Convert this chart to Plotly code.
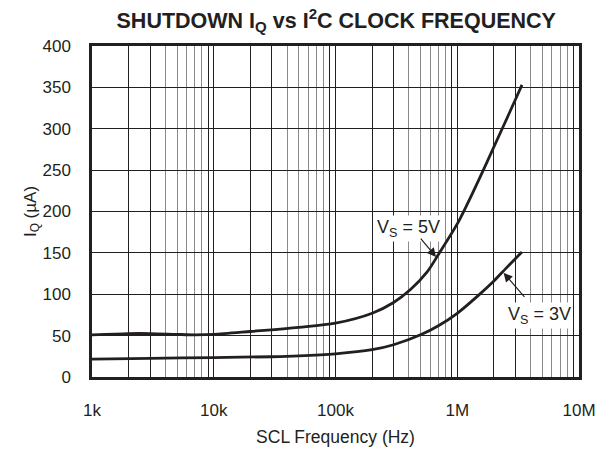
import numpy as np
import plotly.graph_objects as go

# ---- data ----
freq_5v = [1e3, 2e3, 3e3, 5e3, 7e3, 1e4, 2e4, 5e4, 1e5, 2e5, 3e5, 4.15e5, 5.66e5,
           7e5, 1e6, 1.2e6, 1.5e6, 2e6, 3e6, 3.4e6]
iq_5v = [51, 52.5, 52.5, 51.5, 51, 51.5, 55, 60, 65, 77, 90, 106, 127,
         148, 185, 208, 238, 278, 335, 353]

freq_3v = [1e3, 3e3, 1e4, 3e4, 5e4, 1e5, 2e5, 3e5, 5e5, 7e5, 1e6, 1.5e6, 2e6,
           2.5e6, 3e6, 3.4e6]
iq_3v = [21.5, 22.5, 23.5, 24.5, 25.5, 28, 33, 39, 51, 62, 77, 99, 116,
         131, 143, 151]

x_tick_vals = [1e3, 1e4, 1e5, 1e6, 1e7]
x_tick_text = ["1k", "10k", "100k", "1M", "10M"]
y_tick_vals = [0, 50, 100, 150, 200, 250, 300, 350, 400]

# label / arrow anchor values
label_5v = dict(f=3.95e5, v=180)
arrow_5v = dict(f_tip=6.7e5, v_tip=145, f_tail=4.9e5, v_tail=169)
label_3v = dict(f=4.7e6, v=74)
arrow_3v = dict(f_tip=2.4e6, v_tip=126, f_tail=3.65e6, v_tail=95)

INK = "#231f20"
FONT = "Liberation Sans, Arial, Helvetica, sans-serif"

# grid lines: decades + 2,3,9 dark; 4..8 grey
dark_minor = []
grey_minor = []
for d in [1e3, 1e4, 1e5, 1e6]:
    for m in [2, 3, 9]:
        dark_minor.append(m * d)
    for m in [4, 5, 6, 7, 8]:
        grey_minor.append(m * d)

fig = go.Figure()
fig.add_trace(go.Scatter(x=freq_5v, y=iq_5v, mode="lines",
                         line=dict(color=INK, width=2.8, shape="spline", smoothing=0.8),
                         showlegend=False, hoverinfo="skip"))
fig.add_trace(go.Scatter(x=freq_3v, y=iq_3v, mode="lines",
                         line=dict(color=INK, width=2.8, shape="spline", smoothing=0.8),
                         showlegend=False, hoverinfo="skip"))

major_vals = x_tick_vals + dark_minor
major_text = x_tick_text + [""] * len(dark_minor)

fig.update_xaxes(type="log", range=[3, 7],
                 tickvals=major_vals, ticktext=major_text,
                 showgrid=True, gridcolor=INK, gridwidth=1,
                 minor=dict(tickvals=grey_minor, showgrid=True,
                            gridcolor="#8a8a8a", gridwidth=1.2, ticks=""),
                 ticks="", ticklabelstandoff=16,
                 showline=True, mirror=True, linecolor=INK, linewidth=2.5,
                 tickfont=dict(family=FONT, size=17, color=INK),
                 title=dict(text="SCL Frequency (Hz)", standoff=12,
                            font=dict(family=FONT, size=17.5, color=INK)))
fig.update_yaxes(range=[0, 400], tickvals=y_tick_vals,
                 showgrid=True, gridcolor=INK, gridwidth=1, zeroline=False,
                 ticks="", ticklabelstandoff=15,
                 showline=True, mirror=True, linecolor=INK, linewidth=2.5,
                 tickfont=dict(family=FONT, size=17, color=INK),
                 title=dict(text="I<sub>Q</sub> (µA)", standoff=2,
                            font=dict(family=FONT, size=17, color=INK)))

fig.add_annotation(x=np.log10(label_5v["f"]), y=label_5v["v"], xref="x", yref="y",
                   text="V<sub>S</sub> = 5V", showarrow=False, bgcolor="white",
                   font=dict(family=FONT, size=18, color=INK), borderpad=1)
fig.add_annotation(x=np.log10(arrow_5v["f_tip"]), y=arrow_5v["v_tip"], xref="x", yref="y",
                   ax=np.log10(arrow_5v["f_tail"]), ay=arrow_5v["v_tail"], axref="x", ayref="y",
                   text="", showarrow=True, arrowhead=2, arrowsize=1.5, arrowwidth=1.2,
                   arrowcolor=INK, standoff=0, startstandoff=0)
fig.add_annotation(x=np.log10(label_3v["f"]), y=label_3v["v"], xref="x", yref="y",
                   text="V<sub>S</sub> = 3V", showarrow=False, bgcolor="white",
                   font=dict(family=FONT, size=18, color=INK), borderpad=1)
fig.add_annotation(x=np.log10(arrow_3v["f_tip"]), y=arrow_3v["v_tip"], xref="x", yref="y",
                   ax=np.log10(arrow_3v["f_tail"]), ay=arrow_3v["v_tail"], axref="x", ayref="y",
                   text="", showarrow=True, arrowhead=2, arrowsize=1.5, arrowwidth=1.2,
                   arrowcolor=INK, standoff=0, startstandoff=0)

fig.update_layout(
    width=608, height=456,
    margin=dict(l=92, r=20, t=46, b=76),
    paper_bgcolor="white", plot_bgcolor="white",
    title=dict(text="<b>SHUTDOWN I<sub>Q</sub> vs I<sup>2</sup>C CLOCK FREQUENCY</b>",
               x=0.553, xanchor="center", y=0.956, yanchor="middle",
               font=dict(family=FONT, size=21.5, color=INK)),
)

fig.write_html("out.html", config={"displayModeBar": False},
               post_script="document.body.style.margin='0';document.body.style.overflow='hidden';")
